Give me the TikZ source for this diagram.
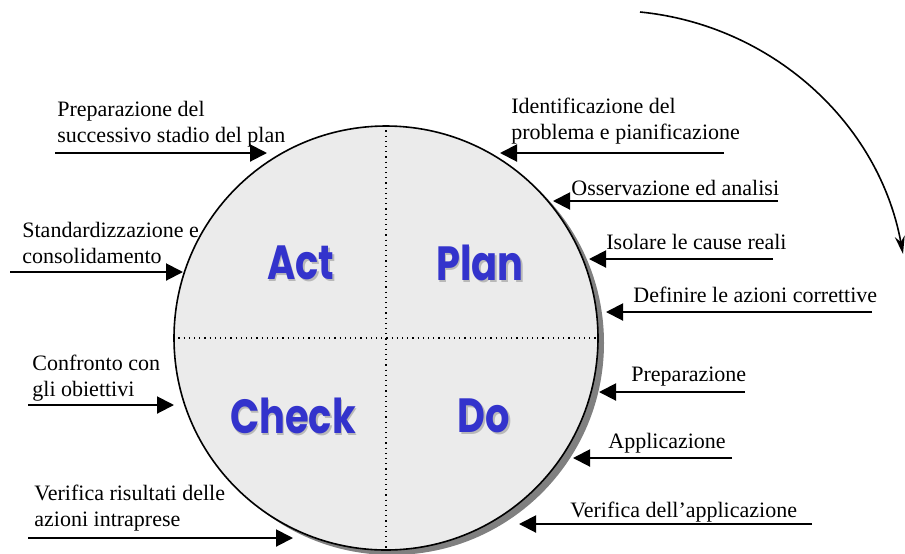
\documentclass[tikz,border=0pt]{standalone}
\usepackage{fontspec}
\setmainfont{Liberation Serif}
\newfontfamily\phasefont[FakeStretch=0.8]{Poppins}
\usepackage{xcolor}
\usepackage{tikz}
\usetikzlibrary{arrows.meta}
\definecolor{phaseblue}{RGB}{51,51,204}
\definecolor{discgray}{RGB}{235,235,235}

\begin{document}
\begin{tikzpicture}[x=0.5pt,y=-0.5pt]
	\tikzstyle{note}=[anchor=north west,inner sep=0pt,align=left,font=\fontsize{11}{13}\selectfont]
	\tikzstyle{flow}=[line width=1pt,-{Triangle[length=8.5pt,width=8.5pt]}]
	\tikzstyle{phase}=[inner sep=0pt,text=phaseblue,font=\phasefont\bfseries\fontsize{24}{28}\selectfont]
	\tikzstyle{phaseshadow}=[phase,text=black!28]
	\useasboundingbox (0,0) rectangle (905,553);
	% the disc
	\node[circle,fill=gray,minimum size=212pt,inner sep=0pt](disc-shadow) at (392,343) {};
	\node[circle,draw=black,line width=0.8pt,fill=discgray,minimum size=212pt,inner sep=0pt](pdca) at (386,338) {};
	\draw[dotted,line width=0.6pt] (pdca.north) -- (pdca.south);
	\draw[dotted,line width=0.6pt] (pdca.west) -- (pdca.east);
	% phases
	\node[phaseshadow](act-s) at (302.5,264.5) {Act};
	\node[phaseshadow](plan-s) at (481.5,264.5) {Plan};
	\node[phaseshadow](check-s) at (294.5,417.5) {Check};
	\node[phaseshadow](do-s) at (485.5,417.5) {Do};
	\node[phase](act) at (301,263) {Act};
	\node[phase](plan) at (480,263) {Plan};
	\node[phase](check) at (293,416) {Check};
	\node[phase](do) at (484,416) {Do};
	% texts
	\node[note](n1) at (57,101) {Preparazione del\\successivo stadio del plan};
	\node[note](n2) at (22,222) {Standardizzazione e\\consolidamento};
	\node[note](n3) at (32,355) {Confronto con\\gli obiettivi};
	\node[note](n4) at (34,485) {Verifica risultati delle\\azioni intraprese};
	\node[note](n5) at (511,98) {Identificazione del\\problema e pianificazione};
	\node[note](n6) at (571,180) {Osservazione ed analisi};
	\node[note](n7) at (606,234) {Isolare le cause reali};
	\node[note](n8) at (633,287) {Definire le azioni correttive};
	\node[note](n9) at (631,367) {Preparazione};
	\node[note](n10) at (608,433) {Applicazione};
	\node[note](n11) at (570,502) {Verifica dell’applicazione};
	% arrow ends
	\coordinate (from1) at (55,153);   \coordinate (to1) at (267,153);
	\coordinate (from2) at (10,272);   \coordinate (to2) at (183,272);
	\coordinate (from3) at (28,405);   \coordinate (to3) at (174,405);
	\coordinate (from4) at (28,538);   \coordinate (to4) at (293,538);
	\coordinate (from5) at (724,153);  \coordinate (to5) at (500,153);
	\coordinate (from6) at (778,201);  \coordinate (to6) at (553,201);
	\coordinate (from7) at (773,259);  \coordinate (to7) at (589,259);
	\coordinate (from8) at (872,312);  \coordinate (to8) at (606,312);
	\coordinate (from9) at (745,392);  \coordinate (to9) at (599,392);
	\coordinate (from10) at (732,458); \coordinate (to10) at (573,458);
	\coordinate (from11) at (812,524); \coordinate (to11) at (519,524);
	\path[flow]
		(from1) edge (to1)
		(from2) edge (to2)
		(from3) edge (to3)
		(from4) edge (to4)
		(from5) edge (to5)
		(from6) edge (to6)
		(from7) edge (to7)
		(from8) edge (to8)
		(from9) edge (to9)
		(from10) edge (to10)
		(from11) edge (to11);
	% cycle arrow
	\coordinate (cycle-start) at (640,12);
	\coordinate (cycle-end) at (903,254);
	\draw[line width=0.8pt,-{Stealth[length=9pt,width=5pt]}] (cycle-start) .. controls (772,25) and (879,123) .. (cycle-end);
\end{tikzpicture}
\end{document}
